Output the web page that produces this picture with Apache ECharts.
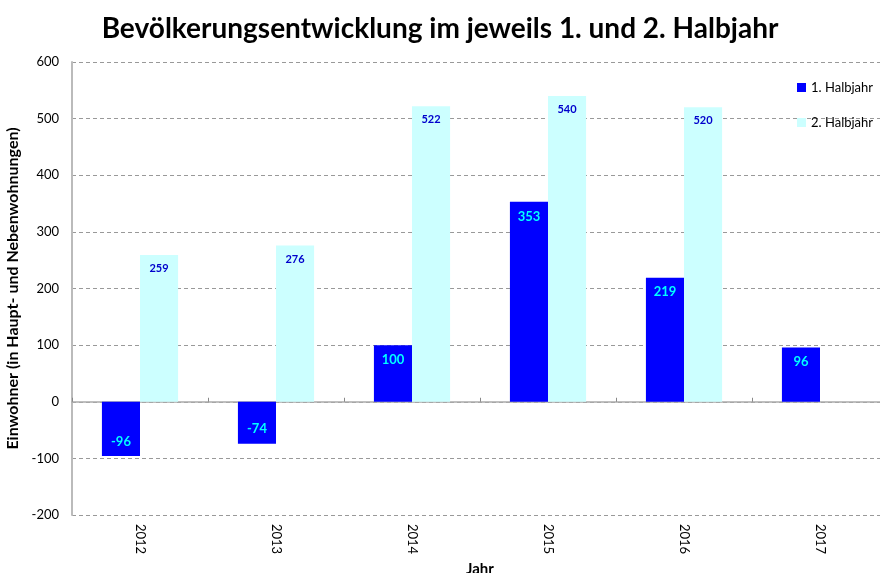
<!DOCTYPE html>
<html><head><meta charset="utf-8">
<script src="https://cdn.jsdelivr.net/npm/echarts@6/dist/echarts.min.js"></script>
<style>html,body{margin:0;padding:0;background:#fff;overflow:hidden}#c{width:880px;height:573px}</style>
</head><body><div id="c"></div>
<script>
const categories = ['2012','2013','2014','2015','2016','2017'];
const half1 = [-96, -74, 100, 353, 219, 96];
const half2 = [259, 276, 522, 540, 520, null];
const seriesNames = ['1. Halbjahr', '2. Halbjahr'];
const yTicks = {min: -200, max: 600, interval: 100};

const font = 'Lato, "Open Sans", sans-serif';
const chart = echarts.init(document.getElementById('c'));
chart.setOption({
  animation: false,
  textStyle: {fontFamily: font},
  title: {text: 'Bevölkerungsentwicklung im jeweils 1. und 2. Halbjahr', left: 'center', top: 10,
    textStyle: {fontSize: 28, fontWeight: 'bold', color: '#000', fontFamily: font}},
  legend: {orient: 'vertical', left: 792, top: 76, itemGap: 22, itemWidth: 9, itemHeight: 9,
    icon: 'rect', textStyle: {fontSize: 13, color: '#000'}, data: seriesNames},
  grid: {left: 72, right: -8, top: 62, bottom: 58, containLabel: false, outerBoundsMode: 'none'},
  xAxis: [{
    type: 'category', data: categories, position: 'bottom',
    axisLine: {show: false, onZero: false}, axisTick: {show: false},
    axisLabel: {rotate: -90, fontSize: 13, color: '#000', margin: 9},
    name: 'Jahr', nameLocation: 'middle', nameGap: 44,
    nameTextStyle: {fontWeight: 'bold', fontSize: 15, color: '#000'}
  }, {
    type: 'category', data: categories, position: 'bottom',
    axisLine: {show: true, onZero: true, lineStyle: {color: '#aaa', width: 1.5}},
    axisTick: {show: true, inside: true, length: 4, lineStyle: {color: '#888'}},
    axisLabel: {show: false}
  }],
  yAxis: {
    type: 'value', min: yTicks.min, max: yTicks.max, interval: yTicks.interval,
    axisLine: {show: true, lineStyle: {color: '#bbb', width: 2}},
    axisTick: {show: false},
    axisLabel: {fontSize: 13, color: '#000', margin: 13},
    splitLine: {lineStyle: {type: [4, 3], color: '#999'}},
    name: 'Einwohner (in Haupt- und Nebenwohnungen)', nameLocation: 'middle', nameGap: 46,
    nameTextStyle: {fontWeight: 'bold', fontSize: 16, color: '#000'}
  },
  series: [{
    name: seriesNames[0], type: 'bar', barWidth: '28%', barGap: '0%',
    itemStyle: {color: '#0000FF'},
    data: half1.map(v => ({value: v, label: {position: v < 0 ? 'insideBottom' : 'insideTop', distance: 8}})),
    label: {show: true, color: '#00FFFF', fontWeight: 'bold', fontSize: 13}
  }, {
    name: seriesNames[1], type: 'bar', barWidth: '28%', barGap: '0%',
    itemStyle: {color: '#CCFFFF'},
    data: half2,
    label: {show: true, position: 'insideTop', distance: 8, color: '#0000CC', fontWeight: 'bold', fontSize: 11}
  }]
});
</script></body></html>
